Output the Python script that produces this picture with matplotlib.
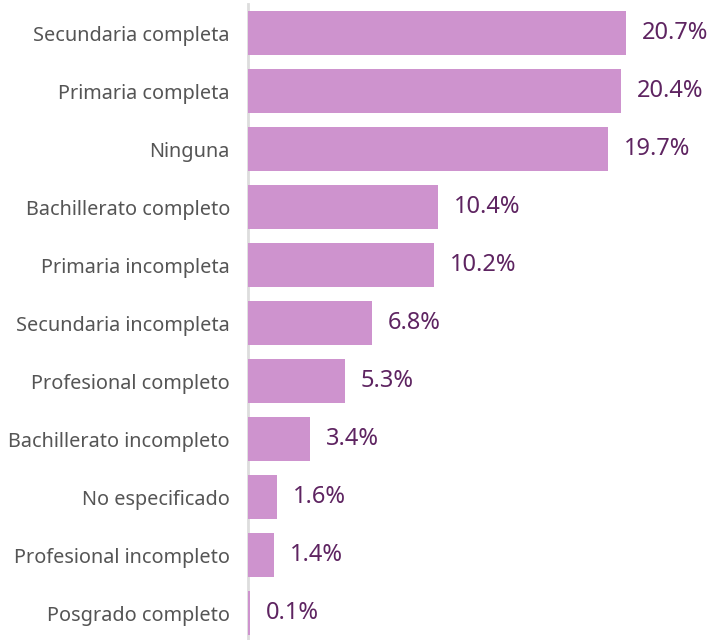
import matplotlib
matplotlib.use('Agg')
import matplotlib.pyplot as plt

categorias = ['Secundaria completa', 'Primaria completa', 'Ninguna', 'Bachillerato completo',
              'Primaria incompleta', 'Secundaria incompleta', 'Profesional completo',
              'Bachillerato incompleto', 'No especificado', 'Profesional incompleto',
              'Posgrado completo']
valores = [20.7, 20.4, 19.7, 10.4, 10.2, 6.8, 5.3, 3.4, 1.6, 1.4, 0.1]
etiquetas = ['20.7%', '20.4%', '19.7%', '10.4%', '10.2%', '6.8%', '5.3%', '3.4%', '1.6%', '1.4%', '0.1%']

plt.rcParams['font.family'] = ['Noto Sans', 'DejaVu Sans']

fig = plt.figure(figsize=(7.13, 6.4), dpi=100)
ax = fig.add_axes([248/713, 0, 1 - 248/713, 1])

y = list(range(len(categorias)))
ax.barh(y, valores, height=0.76, color='#CE93CE', zorder=2)

for yi, v, t in zip(y, valores, etiquetas):
    ax.annotate(t, (v, yi), xytext=(16, 0), textcoords='offset pixels',
                va='center', ha='left', fontsize=17, fontweight='medium', color='#5E2461')

ax.set_ylim(10.465, -0.569)
ax.set_xlim(0, 25.46)
ax.set_yticks(y)
ax.set_yticklabels(categorias, fontsize=14.3, color='#555555')
ax.tick_params(axis='y', length=0, pad=13)
ax.set_xticks([])
for s in ['top', 'right', 'bottom']:
    ax.spines[s].set_visible(False)
ax.spines['left'].set_color('#DDDDDD')
ax.spines['left'].set_linewidth(2)
ax.spines['left'].set_bounds(10.465, -0.5)
ax.spines['left'].set_zorder(1)

fig.savefig('out.png', dpi=100)
